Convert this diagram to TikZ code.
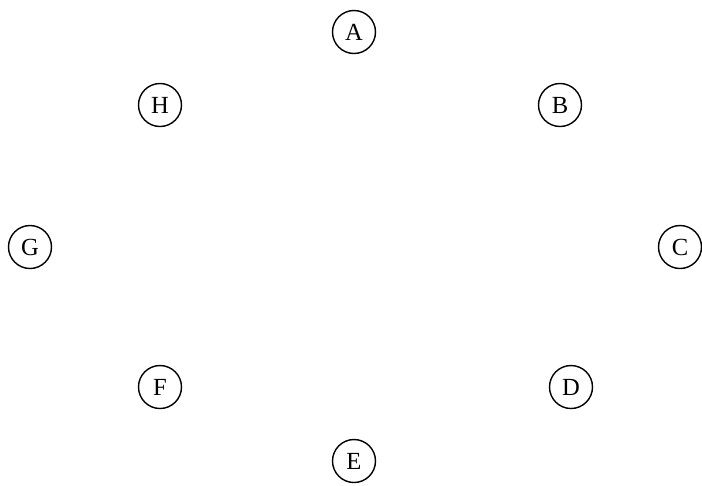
\documentclass[tikz,border=0pt]{standalone}
\usepackage{fontspec}
\setmainfont{Liberation Serif}
\usetikzlibrary{positioning}

\begin{document}
\begin{tikzpicture}[
    x=0.02cm, y=-0.02cm,
    vertex/.style={draw, circle, thick, minimum size=0.86cm, inner sep=0pt, font=\fontsize{14}{14}\selectfont},
]
    \useasboundingbox (0, 0) rectangle (702, 485);

    % Vertices
    \node[vertex] (A) at (354, 32) {A};
    \node[vertex] (B) at (560, 105) {B};
    \node[vertex] (C) at (680, 247) {C};
    \node[vertex] (D) at (571, 387) {D};
    \node[vertex] (E) at (354, 461) {E};
    \node[vertex] (F) at (160, 387) {F};
    \node[vertex] (G) at (30, 247) {G};
    \node[vertex] (H) at (160, 105) {H};
\end{tikzpicture}
\end{document}
